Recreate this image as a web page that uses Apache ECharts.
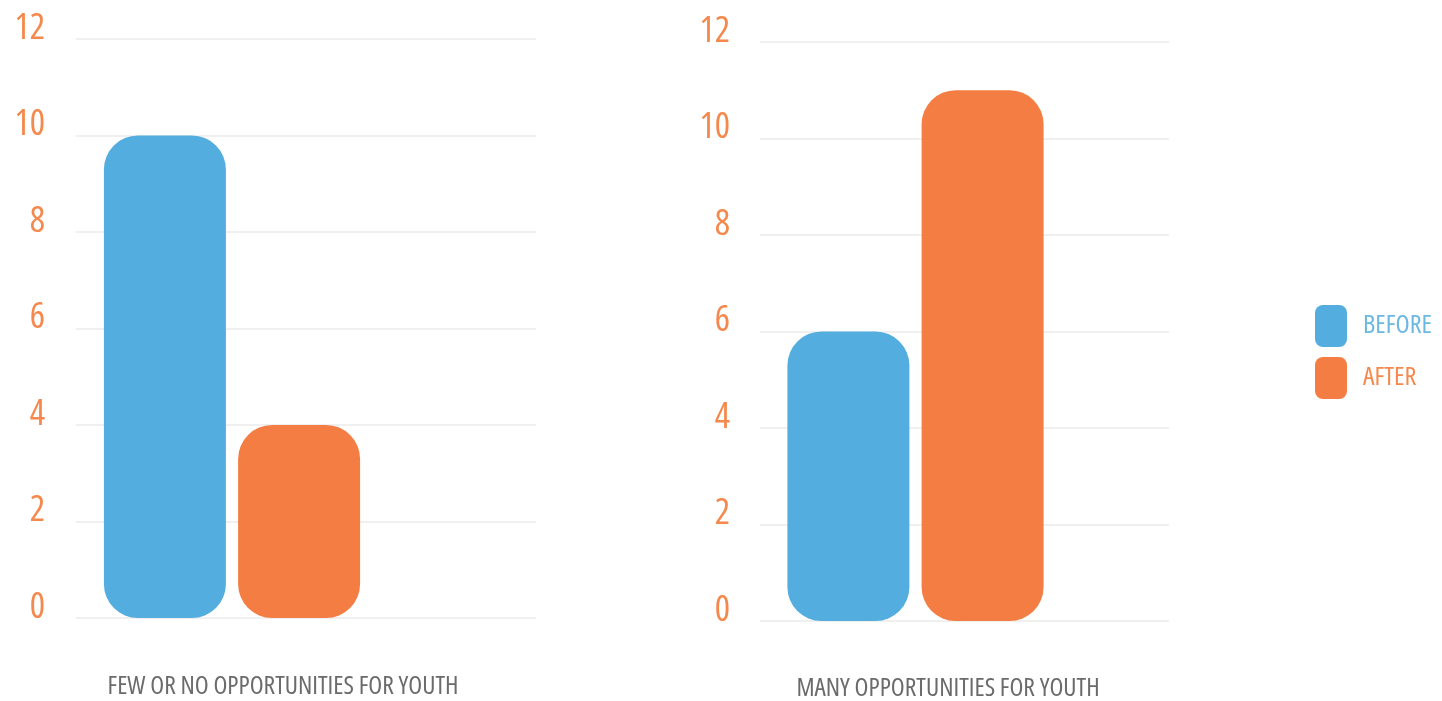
<!DOCTYPE html>
<html>
<head>
<meta charset="utf-8">
<script src="https://cdn.jsdelivr.net/npm/echarts@6/dist/echarts.min.js"></script>
<style>
html,body{margin:0;padding:0;background:#fff;}
#c{width:1442px;height:701px;}
</style>
</head>
<body>
<div id="c"></div>
<script>
const categories = ['FEW OR NO OPPORTUNITIES FOR YOUTH', 'MANY OPPORTUNITIES FOR YOUTH'];
const seriesNames = ['BEFORE', 'AFTER'];
const beforeValues = [10, 6];
const afterValues = [4, 11];
const yTicks = [0, 2, 4, 6, 8, 10, 12];

const BLUE = '#53ADDF';
const ORANGE = '#F47D43';
const LABEL_ORANGE = '#F5894D';
const FONT = '"Open Sans", Roboto, sans-serif';

const panels = [
  { bgLeft: 76, bgWidth: 460, top: 39, height: 579, barWidthGrid: 312, labelX: 283, labelY: 674, yMargin: 31 },
  { bgLeft: 760, bgWidth: 409, top: 42, height: 579, barWidthGrid: 311, labelX: 948, labelY: 676, yMargin: 30 }
];

const grids = [], xAxes = [], yAxes = [], series = [], graphics = [];
panels.forEach((p, i) => {
  grids.push({ left: p.bgLeft, top: p.top, width: p.bgWidth, height: p.height });
  grids.push({ left: p.bgLeft, top: p.top, width: p.barWidthGrid, height: p.height });
  const bg = i * 2, bar = i * 2 + 1;
  xAxes.push({ gridIndex: bg, type: 'category', data: [categories[i]], show: false });
  xAxes.push({ gridIndex: bar, type: 'category', data: [categories[i]], show: false });
  yAxes.push({
    gridIndex: bg, type: 'value', min: yTicks[0], max: yTicks[yTicks.length - 1], interval: 2,
    axisLine: { show: false }, axisTick: { show: false },
    splitLine: { show: true, lineStyle: { color: '#F0F0F0', width: 2 } },
    axisLabel: { color: LABEL_ORANGE, fontSize: 36, fontWeight: 'condensed', fontFamily: FONT, verticalAlign: 'bottom', lineHeight: 21, margin: p.yMargin }
  });
  yAxes.push({
    gridIndex: bar, type: 'value', min: yTicks[0], max: yTicks[yTicks.length - 1], interval: 2,
    show: false, splitLine: { show: false }
  });
  series.push({
    name: seriesNames[0], type: 'bar', xAxisIndex: bar, yAxisIndex: bar,
    data: [beforeValues[i]], barWidth: 122, barGap: '10%',
    itemStyle: { color: BLUE, borderRadius: 34 }
  });
  series.push({
    name: seriesNames[1], type: 'bar', xAxisIndex: bar, yAxisIndex: bar,
    data: [afterValues[i]], barWidth: 122, barGap: '10%',
    itemStyle: { color: ORANGE, borderRadius: 34 }
  });
  graphics.push({
    type: 'text', x: p.labelX, y: p.labelY,
    style: { text: categories[i], textAlign: 'center', textVerticalAlign: 'top', fill: '#6B6B6B', font: 'condensed 25.5px ' + FONT }
  });
});

const chart = echarts.init(document.getElementById('c'), null, { renderer: 'canvas' });
chart.setOption({
  animation: false,
  backgroundColor: '#ffffff',
  grid: grids,
  xAxis: xAxes,
  yAxis: yAxes,
  series: series,
  graphic: graphics,
  legend: {
    orient: 'vertical', left: 1315, top: 305, padding: 0,
    itemWidth: 32, itemHeight: 42, itemGap: 10,
    icon: 'roundRect', selectedMode: false,
    textStyle: { fontSize: 26, fontWeight: 'condensed', fontFamily: FONT, padding: [5, 0, 0, 11] },
    data: [
      { name: seriesNames[0], textStyle: { color: '#6BB8E3' } },
      { name: seriesNames[1], textStyle: { color: LABEL_ORANGE } }
    ]
  }
});
</script>
</body>
</html>
